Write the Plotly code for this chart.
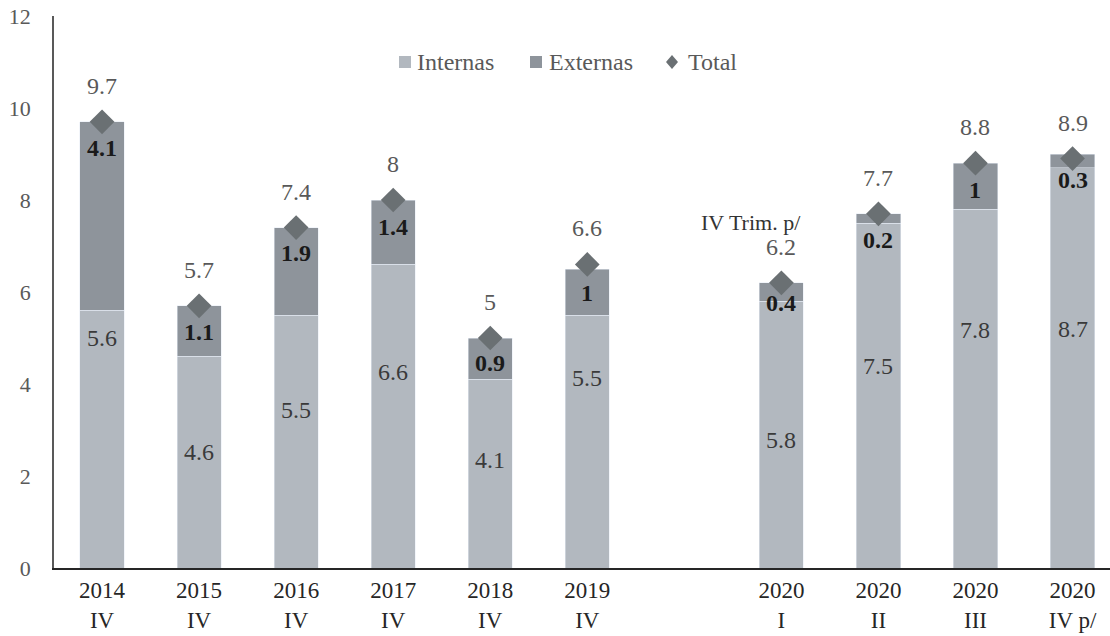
import plotly.graph_objects as go

# Periods and values (share of total, %)
years = ["2014", "2015", "2016", "2017", "2018", "2019", "2020", "2020", "2020", "2020"]
quarters = ["IV", "IV", "IV", "IV", "IV", "IV", "I", "II", "III", "IV p/"]
internas = [5.6, 4.6, 5.5, 6.6, 4.1, 5.5, 5.8, 7.5, 7.8, 8.7]
externas = [4.1, 1.1, 1.9, 1.4, 0.9, 1.0, 0.4, 0.2, 1.0, 0.3]
total = [9.7, 5.7, 7.4, 8.0, 5.0, 6.6, 6.2, 7.7, 8.8, 8.9]

# Vertical placement of the in-bar value labels (axis units)
internas_label_y = [5.0, 2.52, 3.43, 4.26, 2.35, 4.13, 2.78, 4.39, 5.17, 5.2]
externas_label_y = [9.13, 5.13, 6.85, 7.41, 4.45, 5.98, 5.76, 7.13, 8.22, 8.43]

cats = [f"{y}<br>{q}" for y, q in zip(years, quarters)]
gap = " "
axis_order = cats[:6] + [gap] + cats[6:]

FONT = "Liberation Serif"
C_INT = "#b2b8bf"
C_EXT = "#8e949b"
C_TOT = "#6a7073"
W, H = 1110, 636
ML, MR, MT, MB = 54, 0, 16, 68


def px_to_paper(px, py):
    """Convert page pixels to paper coordinates of the plot area."""
    return (px - ML) / (W - ML - MR), (H - MB - py) / (H - MT - MB)


fig = go.Figure()
fig.add_trace(go.Bar(x=cats, y=internas, name="Internas", marker_color=C_INT,
                     width=0.455, hoverinfo="skip"))
fig.add_trace(go.Bar(x=cats, y=externas, name="Externas", marker_color=C_EXT,
                     width=0.455, hoverinfo="skip"))
fig.add_trace(go.Scatter(x=cats, y=total, name="Total", mode="markers",
                         marker=dict(symbol="diamond", size=19, color=C_TOT),
                         hoverinfo="skip"))

ann = []
for c, v, ly in zip(cats, internas, internas_label_y):
    ann.append(dict(x=c, y=ly, text=f"{v:g}", showarrow=False,
                    font=dict(family=FONT, size=24, color="#3a3a3a")))
for c, v, ly in zip(cats, externas, externas_label_y):
    ann.append(dict(x=c, y=ly, text=f"<b>{v:g}</b>", showarrow=False,
                    font=dict(family=FONT, size=24, color="#1a1a1a")))
for c, v in zip(cats, total):
    ann.append(dict(x=c, y=v, yshift=36, text=f"{v:g}", showarrow=False,
                    font=dict(family=FONT, size=24, color="#595959")))
ann.append(dict(x=7.22, y=7.52, xref="x", yref="y", text="IV Trim. p/",
                showarrow=False, xanchor="right",
                font=dict(family=FONT, size=22, color="#333333")))

# Legend drawn as shapes + text along the top of the plot area
shapes = []
legend_items = [("Internas", C_INT, "square", 405, 415),
                ("Externas", C_EXT, "square", 536, 547),
                ("Total", C_TOT, "diamond", 672, 686)]
LEG_Y = 62
for name, color, kind, cx, tx in legend_items:
    if kind == "square":
        x0, y0 = px_to_paper(cx - 6, LEG_Y + 6)
        x1, y1 = px_to_paper(cx + 6, LEG_Y - 6)
        shapes.append(dict(type="rect", xref="paper", yref="paper", x0=x0, y0=y0,
                           x1=x1, y1=y1, fillcolor=color, line=dict(width=0)))
    else:
        pts = [px_to_paper(cx, LEG_Y - 7), px_to_paper(cx + 6, LEG_Y),
               px_to_paper(cx, LEG_Y + 7), px_to_paper(cx - 6, LEG_Y)]
        path = "M " + " L ".join(f"{a},{b}" for a, b in pts) + " Z"
        shapes.append(dict(type="path", xref="paper", yref="paper", path=path,
                           fillcolor=color, line=dict(width=0)))
    lx, ly = px_to_paper(tx, LEG_Y)
    ann.append(dict(x=lx, y=ly, xref="paper", yref="paper", text=name, showarrow=False,
                    xanchor="left", yanchor="middle",
                    font=dict(family=FONT, size=24, color="#595959")))

fig.update_layout(
    width=W, height=H,
    margin=dict(l=ML, r=MR, t=MT, b=MB),
    barmode="stack",
    plot_bgcolor="white", paper_bgcolor="white",
    font=dict(family=FONT, size=22, color="#595959"),
    showlegend=False,
    annotations=ann,
    shapes=shapes,
)
fig.update_xaxes(type="category", categoryorder="array", categoryarray=axis_order,
                 range=[-0.495, 10.386], showline=True, linecolor="#262626", linewidth=2,
                 showgrid=False, ticks="", tickfont=dict(family=FONT, size=23, color="#262626"),
                 fixedrange=True)
fig.update_yaxes(range=[0, 12], dtick=2, showline=True, linecolor="#595959", linewidth=1.5,
                 showgrid=False, zeroline=False, ticks="", ticklabelstandoff=17,
                 tickfont=dict(family=FONT, size=22, color="#595959"))

fig.write_html("out.html")
